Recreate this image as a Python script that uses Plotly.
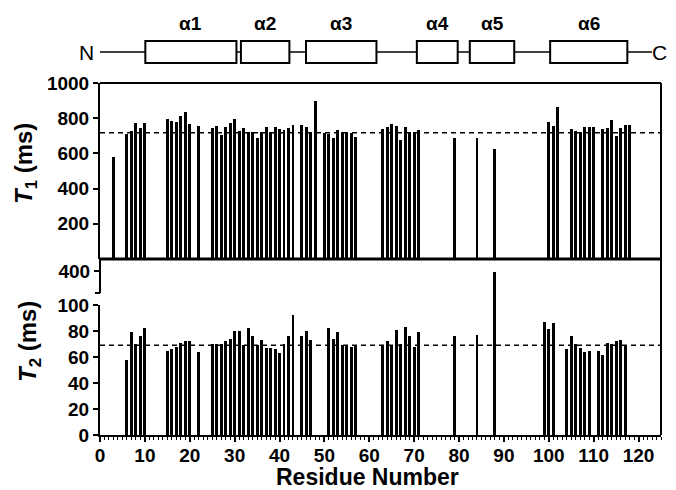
import plotly.graph_objects as go

# page is drawn with an 8px body margin; figure fills the rest of the 676x490 window
OFF = 8
FW, FH = 676 - OFF, 490 - OFF

# ---------------- data ----------------
t1_res = [3, 6, 7, 8, 9, 10, 15, 16, 17, 18, 19, 20, 22,
          25, 26, 27, 28, 29, 30, 31, 32, 33, 34, 35, 36, 37, 38, 39, 40, 41, 42, 43,
          45, 46, 47, 48, 50, 51, 52, 53, 54, 55, 56, 57,
          63, 64, 65, 66, 67, 68, 69, 70, 71, 79, 84, 88,
          100, 101, 102, 105, 106, 107, 108, 109, 110,
          112, 113, 114, 115, 116, 117, 118]
t1_val = [580, 710, 730, 775, 745, 770, 795, 785, 780, 810, 835, 765, 755,
          742, 758, 703, 752, 775, 794, 729, 744, 724, 720, 689, 720, 748, 720, 750, 737, 733, 744, 763,
          763, 748, 724, 898, 716, 710, 690, 733, 724, 724, 718, 695,
          737, 748, 767, 756, 676, 752, 724, 720, 733, 689, 686, 627,
          776, 756, 866, 737, 725, 720, 752, 752, 750,
          737, 742, 790, 699, 744, 759, 761]

t2_res = [6, 7, 8, 9, 10, 15, 16, 17, 18, 19, 20, 22,
          25, 26, 27, 28, 29, 30, 31, 32, 33, 34, 35, 36, 37, 38, 39, 40, 41, 42, 43,
          45, 46, 47, 51, 52, 53, 54, 55, 56, 57,
          63, 64, 65, 66, 67, 68, 69, 70, 71, 79, 84, 88,
          99, 100, 101, 104, 105, 106, 107, 108, 109,
          111, 112, 113, 114, 115, 116, 117]
t2_val = [58, 79, 70, 76, 82, 65, 66, 68, 71, 72, 72, 64,
          70, 70, 70, 72, 74, 80, 80, 69, 82, 76, 69, 73, 67, 67, 66, 63, 70, 76, 92,
          76, 80, 73, 82, 74, 79, 69, 69, 68, 69,
          69, 72, 69, 81, 70, 83, 76, 68, 79, 76, 77, 399,
          87, 81.5, 86, 66, 76, 70, 67, 64, 65,
          65, 61.5, 70.5, 70, 72.5, 73, 69]

t1_mean = 717
t2_mean = 69

helix_names = ["α1", "α2", "α3", "α4", "α5", "α6"]
helix_start = [10.1, 31.4, 45.9, 70.6, 82.4, 100.3]
helix_end = [30.4, 42.2, 61.6, 79.7, 92.3, 117.5]
chain_start, chain_end = -0.4, 123.0

x_ticks = list(range(0, 121, 10))
t1_ticks = [200, 400, 600, 800, 1000]
t2_ticks = [0, 20, 40, 60, 80, 100]
t2_upper_ticks = [400]

# ---------------- geometry helpers (window pixels -> paper) ----------------
def px(x):
    return (x - OFF) / FW

def py(y):
    return 1 - (y - OFF) / FH

LEFT, RIGHT = 100, 661
T1_TOP, T1_BOT = 83, 259
T2U_TOP, T2U_BOT = 259, 305
T2L_TOP, T2L_BOT = 305, 435
XR = [0, 125]
BW = 0.66

FONT = "Liberation Sans, Arial, sans-serif"
tickfont = dict(family=FONT, size=19, color="black")

def bold(vals):
    return ["<b>%s</b>" % v for v in vals]

fig = go.Figure()
for xa, ya, xs, ys in [("x", "y", t1_res, t1_val),
                       ("x2", "y2", t2_res, t2_val),
                       ("x3", "y3", t2_res, t2_val)]:
    fig.add_trace(go.Bar(x=xs, y=ys, width=BW,
                         marker=dict(color="black", line=dict(width=0)),
                         xaxis=xa, yaxis=ya, showlegend=False, hoverinfo="skip"))

xdom = [px(LEFT), px(RIGHT)]
hidden_x = dict(domain=xdom, range=XR, showticklabels=False, ticks="", showline=False,
                showgrid=False, zeroline=False, automargin=False)

fig.update_layout(
    template="none",
    width=FW, height=FH, autosize=False,
    margin=dict(l=0, r=0, t=0, b=0, pad=0, autoexpand=False),
    font=dict(family=FONT, color="black"),
    paper_bgcolor="white", plot_bgcolor="white",
    showlegend=False,
    xaxis=dict(hidden_x, anchor="y"),
    xaxis2=dict(hidden_x, anchor="y2"),
    xaxis3=dict(domain=xdom, range=XR, anchor="y3", showgrid=False, zeroline=False,
                automargin=False,
                showline=True, linecolor="black", linewidth=2,
                ticks="outside", ticklen=5, tickwidth=2, tickcolor="black",
                ticklabelstandoff=-3,
                tickvals=x_ticks, ticktext=bold(x_ticks), tickfont=tickfont,
                minor=dict(dtick=1, tick0=0, ticks="outside", ticklen=3, tickwidth=1,
                           tickcolor="black", showgrid=False)),
    yaxis=dict(domain=[py(T1_BOT), py(T1_TOP)], range=[0, 1000], anchor="x",
               showgrid=False, zeroline=False, automargin=False,
               showline=True, linecolor="black", linewidth=2,
               ticks="outside", ticklen=5, tickwidth=2, tickcolor="black",
               tickvals=t1_ticks, ticktext=bold(t1_ticks), tickfont=tickfont),
    yaxis2=dict(domain=[py(T2U_BOT), py(T2U_TOP)], range=[373.85, 409.23], anchor="x2",
                showgrid=False, zeroline=False, showline=False, automargin=False,
                ticks="outside", ticklen=5, tickwidth=2, tickcolor="black",
                tickvals=t2_upper_ticks, ticktext=bold(t2_upper_ticks), tickfont=tickfont),
    yaxis3=dict(domain=[py(T2L_BOT), py(T2L_TOP)], range=[0, 100], anchor="x3",
                showgrid=False, zeroline=False, automargin=False,
                showline=True, linecolor="black", linewidth=2,
                ticks="outside", ticklen=5, tickwidth=2, tickcolor="black",
                tickvals=t2_ticks, ticktext=bold(t2_ticks), tickfont=tickfont),
    bargap=0,
)

shapes = []
# frame
shapes.append(dict(type="line", xref="paper", yref="paper", x0=px(LEFT), x1=px(RIGHT),
                   y0=py(T1_TOP), y1=py(T1_TOP), line=dict(color="black", width=2)))
shapes.append(dict(type="line", xref="paper", yref="paper", x0=px(RIGHT), x1=px(RIGHT),
                   y0=py(T1_TOP), y1=py(T2L_BOT), line=dict(color="black", width=2)))
shapes.append(dict(type="line", xref="paper", yref="paper", x0=px(LEFT - 1), x1=px(RIGHT),
                   y0=py(T1_BOT), y1=py(T1_BOT), line=dict(color="black", width=3)))
# upper T2 spine segment (broken axis) with end cap
shapes.append(dict(type="line", xref="paper", yref="paper", x0=px(LEFT), x1=px(LEFT),
                   y0=py(T2U_TOP), y1=py(293), line=dict(color="black", width=2)))
shapes.append(dict(type="line", xref="paper", yref="paper", x0=px(LEFT - 5), x1=px(LEFT),
                   y0=py(293), y1=py(293), line=dict(color="black", width=2)))
# mean lines
shapes.append(dict(type="line", xref="x", yref="y", x0=0, x1=125.5, y0=t1_mean, y1=t1_mean,
                   line=dict(color="black", width=1.5, dash="5px,4px"), layer="above"))
shapes.append(dict(type="line", xref="x3", yref="y3", x0=0, x1=125.5, y0=t2_mean, y1=t2_mean,
                   line=dict(color="black", width=1.5, dash="5px,4px"), layer="above"))
# secondary structure schematic
shapes.append(dict(type="line", xref="x3", yref="paper", x0=chain_start, x1=chain_end,
                   y0=py(52), y1=py(52), line=dict(color="black", width=1.6)))
for s, e in zip(helix_start, helix_end):
    shapes.append(dict(type="rect", xref="x3", yref="paper", x0=s, x1=e,
                       y0=py(63), y1=py(41), fillcolor="white",
                       line=dict(color="black", width=2)))

annotations = []
for name, s, e in zip(helix_names, helix_start, helix_end):
    annotations.append(dict(text="<b>%s</b>" % name, xref="x3", yref="paper",
                            x=(s + e) / 2, y=py(24),
                            showarrow=False, xanchor="center", yanchor="middle",
                            font=dict(family=FONT, size=19, color="black")))
annotations.append(dict(text="N", xref="paper", yref="paper", x=px(86), y=py(52),
                        showarrow=False, xanchor="center", yanchor="middle",
                        font=dict(family=FONT, size=21, color="black")))
annotations.append(dict(text="C", xref="paper", yref="paper", x=px(669), y=py(52),
                        showarrow=False, xanchor="right", yanchor="middle",
                        font=dict(family=FONT, size=21, color="black")))
annotations.append(dict(text="<b><i>T</i><sub>1</sub> (ms)</b>", xref="paper", yref="paper",
                        x=px(26), y=py(164), textangle=-90, showarrow=False,
                        xanchor="center", yanchor="middle",
                        font=dict(family=FONT, size=24, color="black")))
annotations.append(dict(text="<b><i>T</i><sub>2</sub> (ms)</b>", xref="paper", yref="paper",
                        x=px(29), y=py(342), textangle=-90, showarrow=False,
                        xanchor="center", yanchor="middle",
                        font=dict(family=FONT, size=24, color="black")))
annotations.append(dict(text="<b>Residue Number</b>", xref="paper", yref="paper",
                        x=px(367), y=py(477), showarrow=False,
                        xanchor="center", yanchor="middle",
                        font=dict(family=FONT, size=23, color="black")))

fig.update_layout(shapes=shapes, annotations=annotations)
fig.write_html("out.html")
